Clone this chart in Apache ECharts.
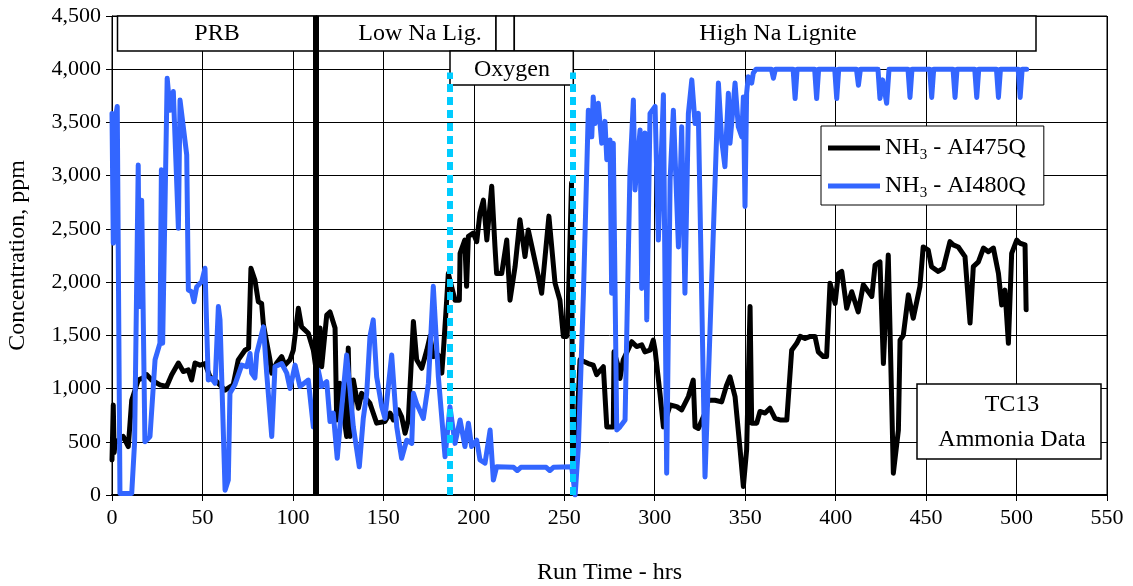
<!DOCTYPE html>
<html>
<head>
<meta charset="utf-8">
<script src="https://cdn.jsdelivr.net/npm/echarts@6/dist/echarts.min.js"></script>
<style>
html,body{margin:0;padding:0;background:#fff;}
#chart{width:1133px;height:586px;}
</style>
</head>
<body>
<div id="chart"></div>
<script>
// Run time (hrs), concentration (ppm)
const ai475q = [[0,330],[0.7,845],[1.2,400],[1.7,490],[4,520],[6.2,550],[9,455],[10.9,890],[14.5,1080],[17,1100],[19.2,1130],[21.9,1080],[26.5,1035],[30.2,1020],[33,1130],[36.7,1240],[39.4,1160],[42.2,1175],[44,1080],[45.9,1240],[48.6,1220],[51.4,1235],[54.2,1110],[57.9,1065],[62.5,985],[67,1035],[69.8,1270],[73.5,1360],[75.5,1380],[76.8,2130],[79,2020],[80.9,1815],[82.7,1800],[83.7,1600],[87.3,1270],[88.3,1145],[91,1240],[93.8,1300],[95.6,1220],[98.4,1270],[100.2,1360],[103,1755],[104.8,1580],[108.5,1520],[111.3,1360],[113.1,1145],[115,1570],[115.9,1205],[118.7,1690],[120.5,1720],[123.3,1570],[124.2,705],[126,1050],[127.9,770],[129.7,550],[130.6,1380],[131.6,550],[133.4,1080],[136.2,815],[138,955],[142.6,860],[146.3,675],[150.9,690],[153.7,770],[155.5,705],[158.3,800],[160.1,735],[162,580],[163.8,705],[166.6,1630],[168.4,1270],[171.2,1190],[174,1360],[175.8,1490],[177.6,1300],[180.4,1315],[182.3,1145],[183.1,1330],[185,1830],[185.9,2080],[186.8,2080],[189.6,1830],[192,1830],[192.4,2270],[195,2395],[196,1960],[197,2430],[199.7,2460],[201.6,2380],[203.4,2650],[205.3,2770],[207.2,2395],[209.9,2900],[211.7,2330],[212.6,2080],[215.4,2080],[218.2,2395],[220,1830],[222.8,2145],[225.5,2585],[228.3,2240],[230.1,2490],[232.9,2270],[235.7,2050],[237.5,1895],[241.5,2620],[244.9,1990],[247.6,1830],[249.5,1490],[251.3,1490],[252.2,1770],[254,2930],[254.6,150],[256.5,455],[258.7,1270],[263.3,1235],[266,1220],[267.9,1130],[271.6,1205],[273.5,640],[277.1,640],[277.5,1345],[279.9,1205],[280.8,1095],[282.6,1270],[287.3,1440],[290,1395],[292.8,1410],[294.6,1345],[297.4,1360],[299.2,1455],[300.2,1360],[302.9,955],[304.8,640],[308.5,845],[312.2,830],[314.9,800],[318.6,925],[321.3,1080],[322.3,640],[324.1,625],[327.8,770],[329.6,890],[333.3,890],[337,875],[339.8,1035],[341.6,1110],[344.4,925],[347.2,425],[349,80],[350.8,425],[352.7,1770],[353.6,675],[356.4,675],[358.2,785],[361,770],[363.7,815],[366.5,720],[369.3,705],[373,705],[375.7,1360],[378.5,1425],[380.4,1490],[383.1,1470],[386,1490],[388.6,1490],[390.4,1345],[393.2,1300],[395,1300],[396.9,1990],[399.7,1800],[401.5,2080],[403.4,2100],[406.1,1755],[408.9,1910],[412.5,1720],[415.3,1975],[420,1865],[421.8,2160],[424.5,2190],[426.4,1235],[429.1,2255],[431.9,205],[434.7,610],[435.6,1455],[437.4,1500],[440.2,1880],[442.9,1660],[446.6,1960],[448.4,2330],[451.2,2300],[453,2145],[456.7,2100],[459.5,2130],[463.2,2380],[465,2350],[467.8,2330],[471.5,2240],[474.3,1615],[476.1,2145],[478.9,2190],[481.7,2320],[484.4,2285],[487.2,2320],[490,2080],[491.8,1785],[493.6,1925],[495.5,1425],[497.3,2270],[500.1,2395],[501.9,2365],[504.7,2350],[505.3,1740]];

const ai480q = [[0,3585],[0.7,2365],[1.5,3500],[2.9,3650],[4.4,15],[7.2,15],[10.9,15],[12.5,500],[14.5,3100],[15.1,1770],[16.4,2770],[18.2,500],[21,550],[23.8,1270],[26.5,1425],[27.3,3055],[28,1425],[30.5,3915],[32.1,3615],[33.9,3790],[36.7,2505],[37.6,3710],[41.3,3195],[42.2,1925],[44,1910],[45.3,1815],[46.8,1955],[49.6,2005],[51.4,2130],[53.2,1080],[55.1,1095],[57,1050],[58.8,1770],[59.7,1645],[62.5,45],[64.3,140],[65.2,955],[67.9,1035],[71.7,1220],[74.5,1205],[76.3,1330],[77.2,1145],[79,1100],[80,1330],[83.7,1580],[85.5,1145],[88.3,550],[90.1,1205],[93.8,1235],[96.6,1145],[98.4,1000],[101.2,1220],[103.9,1020],[108.5,1080],[111.3,640],[114,1175],[115.9,1020],[118.7,1065],[120.5,690],[122.3,770],[124.5,345],[126,640],[129.7,1315],[131.6,985],[133.4,640],[136.7,265],[138.9,720],[140.8,955],[142.6,1490],[144.4,1645],[146.3,1110],[149.1,830],[150.9,720],[154.6,1315],[157.4,640],[160.1,345],[162.9,515],[165.7,485],[166.6,955],[168.4,860],[172.1,720],[174.9,1050],[177.6,1960],[180.4,1110],[184.1,360],[186.8,830],[189.6,485],[192.4,705],[195.1,455],[197,675],[198.8,455],[201.6,515],[203.4,330],[206.2,300],[209,610],[210.8,140],[212.6,265],[222,260],[224,230],[226,260],[240,260],[242,230],[244,260],[254.1,265],[256,0],[257.8,455],[260.6,1895],[263.3,3615],[265.2,3365],[266,3740],[267,3490],[268.8,3680],[270.7,3305],[272.5,3510],[273.5,3150],[275.3,3335],[276.2,1895],[277.1,3305],[279,610],[280.8,640],[283.6,705],[286.3,3025],[288.2,3710],[289.1,2865],[291.9,3430],[292.8,1940],[294.6,3400],[295.6,1645],[297.4,3585],[300.2,3650],[302,2395],[304.8,3760],[306.6,205],[308.5,2960],[310.3,3615],[313.1,2330],[314.9,3460],[316.7,1895],[318.6,3585],[320.5,3900],[322.3,3490],[324.1,3585],[327.8,170],[335.2,3870],[337,3335],[338.8,3085],[340.7,3775],[341.6,3305],[344.4,3870],[346.2,3460],[348.1,3365],[349,3740],[349.9,2710],[350.8,3775],[351.7,3930],[353.6,3870],[354.5,3965],[356,4000],[364.5,4000],[365.6,3915],[366.7,4000],[376.5,4000],[377.6,3725],[378.7,4000],[388.4,4000],[389.5,3725],[390.6,4000],[399.5,4000],[400.6,3725],[401.7,4000],[411.5,4000],[412.6,3850],[413.7,4000],[423.4,4000],[424.5,3725],[426,3900],[428.2,3680],[429.5,4000],[440,4000],[441.1,3735],[442.2,4000],[452,4000],[453.1,3735],[454.2,4000],[464.9,4000],[466,3735],[467.1,4000],[476.9,4000],[478,3735],[479.1,4000],[488.9,4000],[490,3735],[491.1,4000],[500.9,4000],[502,3735],[503.1,4000],[505.6,4000]];

const seriesNames = ['NH{s|3} - AI475Q', 'NH{s|3} - AI480Q'];
const fuelChangeHr = [112.8];
const oxygenHrs = [186.8, 254.8];
const xTicks = {min: 0, max: 550, step: 50};
const yTicks = {min: 0, max: 4500, step: 500};

const FONT = '"Liberation Serif", "Times New Roman", serif';
const chart = echarts.init(document.getElementById('chart'), null, {renderer: 'canvas'});

function box(x, y, w, h) {
  return {type: 'rect', z: 1, shape: {x: x, y: y, width: w, height: h},
          style: {fill: '#fff', stroke: '#000', lineWidth: 1.5}};
}
function label(x, y, t) {
  return {type: 'text', z: 2, x: x, y: y,
          style: {text: t, font: '24px ' + FONT, fill: '#000', textAlign: 'center', textVerticalAlign: 'middle'}};
}

chart.setOption({
  animation: false,
  backgroundColor: '#fff',
  grid: {left: 112, right: 26, top: 16, bottom: 91, show: true, borderColor: '#000', borderWidth: 1,
         containLabel: false, outerBoundsMode: 'none'},
  xAxis: {
    type: 'value', min: xTicks.min, max: xTicks.max, interval: xTicks.step,
    name: 'Run Time - hrs', nameLocation: 'middle', nameGap: 66,
    nameTextStyle: {fontFamily: FONT, fontSize: 24, color: '#000'},
    axisLine: {show: true, onZero: false, lineStyle: {color: '#000', width: 2}},
    axisTick: {show: true, length: 6, lineStyle: {color: '#000'}},
    axisLabel: {fontFamily: FONT, fontSize: 22, color: '#000', margin: 12},
    splitLine: {show: true, lineStyle: {color: '#000', width: 1}}
  },
  yAxis: {
    type: 'value', min: yTicks.min, max: yTicks.max, interval: yTicks.step,
    name: 'Concentration, ppm', nameLocation: 'middle', nameGap: 82,
    nameTextStyle: {fontFamily: FONT, fontSize: 24, color: '#000'},
    axisLine: {show: true, lineStyle: {color: '#000', width: 1}},
    axisTick: {show: true, length: 6, lineStyle: {color: '#000'}},
    axisLabel: {fontFamily: FONT, fontSize: 22, color: '#000', margin: 11,
      formatter: v => v.toLocaleString('en-US')},
    splitLine: {show: true, lineStyle: {color: '#000', width: 1}}
  },
  legend: {
    orient: 'vertical', left: 821, top: 126,
    backgroundColor: '#fff', borderColor: '#000', borderWidth: 1,
    padding: [10, 18, 4, 7], itemGap: 11,
    icon: 'rect', itemWidth: 52, itemHeight: 5,
    data: [
      {name: seriesNames[0], itemStyle: {color: '#000'}},
      {name: seriesNames[1], itemStyle: {color: '#3366FF'}}
    ],
    formatter: n => n,
    textStyle: {fontFamily: FONT, fontSize: 24, color: '#000',
      rich: {s: {fontFamily: FONT, fontSize: 15, color: '#000', verticalAlign: 'bottom', lineHeight: 30}}}
  },
  series: [
    {
      name: seriesNames[0], type: 'line', data: ai475q, showSymbol: false, symbol: 'none',
      lineStyle: {color: '#000', width: 5, join: 'round', cap: 'round'}, itemStyle: {color: '#000'},
      z: 3,
      markLine: {
        silent: true, symbol: 'none', label: {show: false},
        lineStyle: {color: '#000', width: 6, type: 'solid'},
        data: [[{coord: [fuelChangeHr[0], 0]}, {coord: [fuelChangeHr[0], 4500]}]]
      }
    },
    {
      name: seriesNames[1], type: 'line', data: ai480q, showSymbol: false, symbol: 'none',
      lineStyle: {color: '#3366FF', width: 5, join: 'round', cap: 'round'}, itemStyle: {color: '#3366FF'},
      z: 4,
      markLine: {
        silent: true, symbol: 'none', label: {show: false},
        lineStyle: {color: '#00CCFF', width: 6, type: [8, 5]},
        data: oxygenHrs.map(h => [{coord: [h, 0]}, {coord: [h, 3970]}])
      }
    }
  ],
  graphic: [
    box(117.5, 16, 199, 35),
    label(217, 34, 'PRB'),
    box(316.5, 16, 179.5, 35),
    label(420, 34, 'Low Na Lig.'),
    box(496, 16, 18.3, 35),
    box(514.3, 16, 521.7, 35),
    label(778, 34, 'High Na Lignite'),
    box(450, 51, 123.3, 34),
    label(512, 70, 'Oxygen'),
    box(917, 384, 184, 75),
    label(1012, 405, 'TC13'),
    label(1012, 440, 'Ammonia Data')
  ]
});
</script>
</body>
</html>
